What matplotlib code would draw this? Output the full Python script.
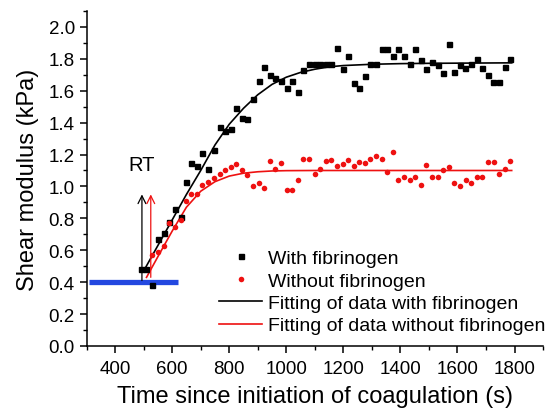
import matplotlib
matplotlib.use("Agg")
import matplotlib.pyplot as plt
from matplotlib.ticker import MultipleLocator, FormatStrFormatter

plt.rcParams['font.family'] = ['Liberation Sans', 'DejaVu Sans']

# measured points, with fibrinogen (black squares)
t_with = [490, 510, 530, 550, 570, 590, 610, 630, 648, 667, 686, 706, 726, 746,
          766, 786, 805, 825, 845, 864, 883, 903, 923, 942, 961, 981, 1001, 1021,
          1041, 1060, 1079, 1099, 1119, 1139, 1158, 1177, 1197, 1217, 1236, 1256,
          1276, 1294, 1314, 1334, 1353, 1373, 1392, 1412, 1432, 1451, 1471, 1490,
          1510, 1530, 1549, 1569, 1589, 1609, 1628, 1647, 1667, 1687, 1707, 1726,
          1745, 1765, 1785]
g_with = [0.48, 0.48, 0.38, 0.67, 0.71, 0.78, 0.86, 0.81, 1.03, 1.15, 1.13, 1.21,
          1.11, 1.23, 1.37, 1.35, 1.36, 1.49, 1.43, 1.42, 1.55, 1.66, 1.75, 1.70,
          1.68, 1.66, 1.62, 1.66, 1.59, 1.73, 1.77, 1.77, 1.77, 1.77, 1.77, 1.87,
          1.735, 1.82, 1.65, 1.62, 1.69, 1.77, 1.77, 1.86, 1.86, 1.82, 1.86, 1.82,
          1.77, 1.86, 1.79, 1.735, 1.78, 1.76, 1.71, 1.89, 1.72, 1.76, 1.74, 1.77,
          1.80, 1.745, 1.70, 1.655, 1.655, 1.75, 1.80]

# without fibrinogen (red circles)
t_without = [530, 550, 570, 590, 610, 630, 648, 667, 686, 706, 726, 746, 766, 786,
             805, 825, 845, 864, 883, 903, 922, 942, 961, 981, 1001, 1021, 1041,
             1060, 1079, 1099, 1119, 1139, 1158, 1177, 1197, 1217, 1236, 1256, 1276,
             1294, 1314, 1334, 1353, 1373, 1392, 1412, 1432, 1452, 1471, 1490, 1510,
             1530, 1549, 1569, 1589, 1609, 1629, 1647, 1667, 1687, 1707, 1727, 1745,
             1765, 1785]
g_without = [0.57, 0.59, 0.625, 0.77, 0.745, 0.79, 0.91, 0.95, 0.955, 1.01, 1.03,
             1.05, 1.08, 1.10, 1.12, 1.14, 1.10, 1.07, 1.00, 1.02, 0.99, 1.16, 1.11,
             1.15, 0.98, 0.98, 1.04, 1.175, 1.175, 1.075, 1.11, 1.16, 1.165, 1.13,
             1.14, 1.165, 1.13, 1.155, 1.15, 1.17, 1.19, 1.17, 1.09, 1.215, 1.04,
             1.06, 1.04, 1.06, 1.01, 1.135, 1.06, 1.06, 1.10, 1.12, 1.02, 1.00, 1.04,
             1.02, 1.06, 1.06, 1.155, 1.155, 1.08, 1.11, 1.16]

# fitted curves
fit_t_with = [500, 550, 600, 650, 700, 750, 800, 850, 900, 950, 1000, 1050, 1100,
              1150, 1200, 1300, 1400, 1500, 1600, 1790]
fit_g_with = [0.47, 0.63, 0.79, 0.95, 1.10, 1.26, 1.39, 1.49, 1.575, 1.64, 1.685,
              1.715, 1.735, 1.75, 1.758, 1.766, 1.770, 1.772, 1.773, 1.775]
fit_t_without = [510, 550, 600, 650, 700, 750, 800, 850, 900, 950, 1000, 1100, 1790]
fit_g_without = [0.43, 0.56, 0.72, 0.87, 0.97, 1.03, 1.065, 1.083, 1.092, 1.097,
                 1.099, 1.10, 1.10]

fig = plt.figure(figsize=(5.48, 4.14), dpi=100)
ax = fig.add_axes([0.158, 0.162, 0.833, 0.809])

ax.plot([310, 620], [0.40, 0.40], color='#2348e0', lw=3.8, solid_capstyle='butt', zorder=1)

ax.plot(t_with, g_with, 's', color='black', ms=3.6, label='With fibrinogen', zorder=3)
ax.plot(t_without, g_without, 'o', color='#ee1111', ms=4, mec='none',
        label='Without fibrinogen', zorder=3)
ax.plot(fit_t_with, fit_g_with, '-', color='black', lw=1.2,
        label='Fitting of data with fibrinogen', zorder=2)
ax.plot(fit_t_without, fit_g_without, '-', color='#ee1111', lw=1.2,
        label='Fitting of data without fibrinogen', zorder=2)

ax.annotate('', xy=(494, 0.95), xytext=(494, 0.41),
            arrowprops=dict(arrowstyle='->', color='black', lw=0.9,
                            shrinkA=0, shrinkB=0, mutation_scale=14))
ax.annotate('', xy=(525, 0.95), xytext=(525, 0.43),
            arrowprops=dict(arrowstyle='->', color='#ee1111', lw=0.9,
                            shrinkA=0, shrinkB=0, mutation_scale=14))
ax.text(492, 1.14, 'RT', fontsize=14.5, ha='center', va='center')

ax.set_xlim(300, 1900)
ax.set_ylim(0, 2.1)
ax.xaxis.set_major_locator(MultipleLocator(200))
ax.xaxis.set_minor_locator(MultipleLocator(100))
ax.yaxis.set_major_locator(MultipleLocator(0.2))
ax.yaxis.set_minor_locator(MultipleLocator(0.1))
ax.yaxis.set_major_formatter(FormatStrFormatter('%.1f'))
ax.set_xticks(range(400, 1801, 200))

for s in ['top', 'right']:
    ax.spines[s].set_visible(False)
for s in ['left', 'bottom']:
    ax.spines[s].set_linewidth(1.1)
ax.tick_params(which='major', direction='out', length=5, width=1.1, labelsize=13.5)
ax.tick_params(which='major', axis='x', pad=5)
ax.tick_params(which='minor', direction='out', length=3, width=1.0)

ax.set_xlabel('Time since initiation of coagulation (s)', fontsize=17, labelpad=6)
ax.set_ylabel('Shear modulus (kPa)', fontsize=17, labelpad=7)

ax.legend(loc='upper left', bbox_to_anchor=(0.40, 0.395),
          bbox_transform=fig.transFigure, frameon=False,
          fontsize=14, handlelength=2.2, handletextpad=0.33, labelspacing=0.25,
          borderpad=0, borderaxespad=0, numpoints=1)

fig.savefig('out.png', dpi=100)
